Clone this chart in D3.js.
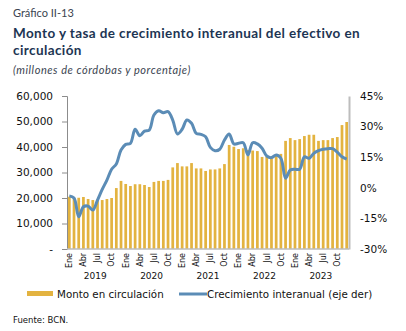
<!DOCTYPE html>
<html>
<head>
<meta charset="utf-8">
<script src="https://cdn.jsdelivr.net/npm/d3@7"></script>
<style>
  body { margin: 0; background: #fff; }
  svg text { font-family: "DejaVu Sans", sans-serif; }
</style>
</head>
<body>
<div id="chart"></div>
<script>

// monthly series, Jan 2019 - Dec 2023
var years = ["2019", "2020", "2021", "2022", "2023"];
var monthLabels = ["Ene", "Feb", "Mar", "Abr", "May", "Jun", "Jul", "Ago", "Sep", "Oct", "Nov", "Dic"];
var tickMonths = ["Ene", "Abr", "Jul", "Oct"];

// monto en circulación (millones de córdobas)
var monto = [
    20500, 19800, 20100, 20400, 19600, 19200, 19400, 19200, 19600, 20000, 23900, 26700,
    25500, 24700, 25400, 25400, 25100, 24300, 26300, 26700, 26700, 27100, 32000, 33700,
    32400, 32400, 33700, 31600, 31600, 30600, 31200, 31200, 31600, 33300, 40800, 40100,
    39200, 39500, 38800, 38600, 38400, 36100, 36200, 35600, 36900, 37300, 42400, 43500,
    42700, 43100, 44300, 44800, 44800, 42400, 42700, 42700, 43500, 43900, 48600, 49800
];

// crecimiento interanual (%)
var crecimiento = [
    -4.0, -5.0, -14.2, -9.3, -9.0, -10.9, -6.0, -0.8, 3.8, 9.1, 11.7, 18.5,
    21.3, 21.8, 28.7, 25.5, 27.8, 28.3, 35.7, 37.8, 36.8, 37.3, 33.2, 26.4,
    28.7, 33.2, 31.6, 26.7, 26.2, 25.0, 19.8, 18.2, 18.9, 23.4, 26.4, 21.5,
    21.8, 22.1, 16.1, 22.1, 21.5, 19.4, 15.6, 14.8, 16.1, 14.5, 4.7, 8.7,
    9.1, 9.1, 15.2, 14.5, 16.9, 18.2, 18.9, 19.2, 19.2, 17.5, 15.2, 14.1
];

var leftTicks = [0, 10000, 20000, 30000, 40000, 50000, 60000];
var rightTicks = [-30, -15, 0, 15, 30, 45];

var data = [];
years.forEach(function (yr, yi) {
    monthLabels.forEach(function (m, mi) {
        var i = yi * 12 + mi;
        data.push({ key: yr + "-" + m, year: yr, month: m, monto: monto[i], crec: crecimiento[i] });
    });
});

var W = 406, H = 331;
var margin = { left: 67, right: 57, top: 96, bottom: 82 };
var width = W - margin.left - margin.right;
var height = H - margin.top - margin.bottom;

var svg = d3.select("#chart")
    .append("svg")
    .attr("width", W)
    .attr("height", H);

// headings
svg.append("text")
    .attr("x", 13).attr("y", 17)
    .style("font-family", "Lato, sans-serif")
    .style("font-size", "11px")
    .style("fill", "#3a4450")
    .text("Gráfico II-13");

svg.append("text")
    .attr("x", 13).attr("y", 38)
    .style("font-family", "Lato, sans-serif")
    .style("font-size", "13.5px")
    .style("font-weight", "bold")
    .style("letter-spacing", "0.4px")
    .style("fill", "#1d3553")
    .text("Monto y tasa de crecimiento interanual del efectivo en");

svg.append("text")
    .attr("x", 13).attr("y", 55)
    .style("font-family", "Lato, sans-serif")
    .style("font-size", "13.5px")
    .style("font-weight", "bold")
    .style("letter-spacing", "0.4px")
    .style("fill", "#1d3553")
    .text("circulación");

svg.append("text")
    .attr("x", 13).attr("y", 74)
    .style("font-family", "Lato, sans-serif")
    .style("font-size", "11px")
    .style("font-style", "italic")
    .style("letter-spacing", "0.55px")
    .style("fill", "#3a4450")
    .text("(millones de córdobas y porcentaje)");

var g = svg.append("g")
    .attr("transform", "translate(" + margin.left + "," + margin.top + ")");

var x = d3.scaleBand()
    .domain(data.map(function (d) { return d.key; }))
    .range([0, width])
    .paddingInner(0.42)
    .paddingOuter(0.2);

var yL = d3.scaleLinear().domain([0, 60000]).range([height, 0]);
var yR = d3.scaleLinear().domain([-30, 45]).range([height, 0]);

// bars
g.selectAll(".bar")
    .data(data)
    .enter()
    .append("rect")
    .attr("class", "bar")
    .attr("x", function (d) { return x(d.key); })
    .attr("width", x.bandwidth())
    .attr("y", function (d) { return yL(d.monto); })
    .attr("height", function (d) { return height - yL(d.monto); })
    .attr("fill", "#e3b340");

// left axis
var axisLeft = d3.axisLeft(yL)
    .tickValues(leftTicks)
    .tickSize(5)
    .tickPadding(9)
    .tickFormat(function (d) { return d === 0 ? "-" : d3.format(",")(d); });

var yaxis = g.append("g").call(axisLeft);
yaxis.select(".domain").attr("stroke", "#8c8c8c");
yaxis.selectAll("line").attr("stroke", "#8c8c8c");
yaxis.selectAll("text")
    .style("font-size", "10.5px")
    .style("fill", "#111");

// right axis
var axisRight = d3.axisRight(yR)
    .tickValues(rightTicks)
    .tickSize(0)
    .tickPadding(11)
    .tickFormat(function (d) { return d + "%"; });

var yaxis2 = g.append("g")
    .attr("transform", "translate(" + width + ",0)")
    .call(axisRight);
yaxis2.select(".domain").attr("stroke", "#bdbdbd").attr("stroke-width", 2);
yaxis2.selectAll("text")
    .style("font-size", "10.5px")
    .style("fill", "#111");

// bottom axis
g.append("line")
    .attr("x1", 0).attr("x2", width)
    .attr("y1", height).attr("y2", height)
    .attr("stroke", "#bdbdbd")
    .attr("stroke-width", 1.5);

var axisBottom = d3.axisBottom(x)
    .tickValues(data.filter(function (d) { return tickMonths.indexOf(d.month) >= 0; })
        .map(function (d) { return d.key; }))
    .tickSize(0)
    .tickFormat(function (k) { return k.split("-")[1]; });

var xaxis = g.append("g")
    .attr("transform", "translate(0," + height + ")")
    .call(axisBottom);
xaxis.select(".domain").remove();
xaxis.selectAll("text")
    .style("font-size", "8px")
    .style("fill", "#111")
    .style("text-anchor", "end")
    .attr("transform", "rotate(-90)")
    .attr("x", -4)
    .attr("y", 0)
    .attr("dx", 0)
    .attr("dy", "0.35em");

// year labels
g.selectAll(".year")
    .data(years)
    .enter()
    .append("text")
    .attr("class", "year")
    .attr("x", function (yr) {
        return (x(yr + "-Ene") + x(yr + "-Dic") + x.bandwidth()) / 2;
    })
    .attr("y", height + 30)
    .attr("text-anchor", "middle")
    .style("font-size", "9px")
    .style("fill", "#111")
    .text(function (yr) { return yr; });

// growth line
g.append("path")
    .datum(data)
    .attr("fill", "none")
    .attr("stroke", "#5b8cb6")
    .attr("stroke-width", 3)
    .attr("stroke-linejoin", "round")
    .attr("d", d3.line()
        .curve(d3.curveCatmullRom.alpha(0.5))
        .x(function (d) { return x(d.key) + x.bandwidth() / 2; })
        .y(function (d) { return yR(d.crec); })
    );

// legend
var legend = svg.append("g").attr("transform", "translate(0,294)");
legend.append("rect")
    .attr("x", 27).attr("y", -3)
    .attr("width", 26).attr("height", 5)
    .attr("fill", "#e3b340");
legend.append("text")
    .attr("x", 57).attr("y", 4)
    .style("font-size", "10.3px")
    .style("fill", "#111")
    .text("Monto en circulación");
legend.append("line")
    .attr("x1", 179).attr("x2", 207)
    .attr("y1", 0).attr("y2", 0)
    .attr("stroke", "#5b8cb6")
    .attr("stroke-width", 3);
legend.append("text")
    .attr("x", 207).attr("y", 4)
    .style("font-size", "10.3px")
    .style("fill", "#111")
    .text("Crecimiento interanual (eje der)");

svg.append("text")
    .attr("x", 13).attr("y", 323)
    .style("font-size", "8.5px")
    .style("fill", "#111")
    .text("Fuente: BCN.");

</script>
</body>
</html>
